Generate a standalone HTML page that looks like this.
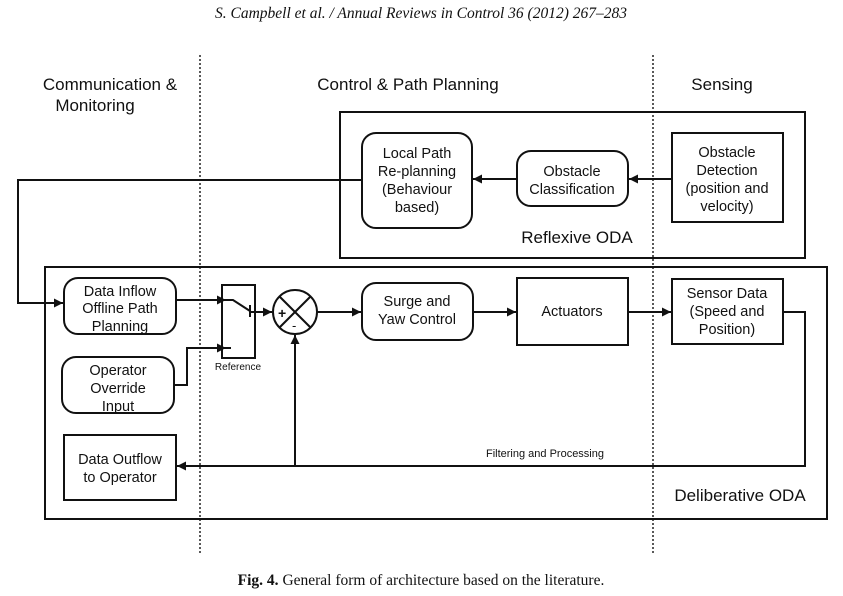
<!DOCTYPE html>
<html><head><meta charset="utf-8"><style>
html,body{margin:0;padding:0;background:#fff}
svg{display:block}
text{font-family:"Liberation Sans",sans-serif;fill:#111}
</style></head><body>
<svg width="843" height="596" viewBox="0 0 843 596" xmlns="http://www.w3.org/2000/svg">
<defs><marker id="a" viewBox="0 0 10 10" refX="10" refY="5" markerWidth="9" markerHeight="9" markerUnits="userSpaceOnUse" orient="auto"><path d="M0,0L10,5L0,10z" fill="#111"/></marker></defs>
<text x="421" y="18" text-anchor="middle" style="font-family:'Liberation Serif',serif;font-style:italic;font-size:15.5px">S. Campbell et al. / Annual Reviews in Control 36 (2012) 267–283</text>
<g stroke="#222" stroke-width="1.5" stroke-dasharray="2,2"><line x1="200" y1="55" x2="200" y2="553"/><line x1="653" y1="55" x2="653" y2="553"/></g>
<g font-size="17" text-anchor="middle"><text x="110" y="90">Communication &amp;</text><text x="95" y="111">Monitoring</text><text x="408" y="90">Control &amp; Path Planning</text><text x="722" y="90">Sensing</text></g>
<g fill="none" stroke="#111" stroke-width="2">
<rect x="340" y="112" width="465" height="146"/>
<rect x="362" y="133" width="110" height="95" rx="14"/>
<rect x="517" y="151" width="111" height="55" rx="14"/>
<rect x="672" y="133" width="111" height="89"/>
<rect x="45" y="267" width="782" height="252"/>
<rect x="64" y="278" width="112" height="56" rx="14"/>
<rect x="62" y="357" width="112" height="56" rx="14"/>
<rect x="64" y="435" width="112" height="65"/>
<rect x="222" y="285" width="33" height="73"/>
<circle cx="295" cy="312" r="22"/>
<line x1="279.5" y1="296.5" x2="310.5" y2="327.5"/><line x1="310.5" y1="296.5" x2="279.5" y2="327.5"/>
<rect x="362" y="283" width="111" height="57" rx="14"/>
<rect x="517" y="278" width="111" height="67"/>
<rect x="672" y="279" width="111" height="65"/>
<line x1="672" y1="179" x2="629" y2="179" marker-end="url(#a)"/>
<line x1="517" y1="179" x2="473" y2="179" marker-end="url(#a)"/>
<polyline points="362,180 18,180 18,303 63,303" marker-end="url(#a)"/>
<polyline points="176,300 226,300" marker-end="url(#a)"/>
<polyline points="226,300 233,300 250,311"/>
<line x1="250" y1="305" x2="250" y2="317"/>
<line x1="250" y1="312" x2="272" y2="312" marker-end="url(#a)"/>
<polyline points="174,385 187,385 187,348 226,348" marker-end="url(#a)"/>
<line x1="226" y1="348" x2="231" y2="348"/>
<line x1="317" y1="312" x2="361" y2="312" marker-end="url(#a)"/>
<line x1="473" y1="312" x2="516" y2="312" marker-end="url(#a)"/>
<line x1="628" y1="312" x2="671" y2="312" marker-end="url(#a)"/>
<polyline points="783,312 805,312 805,466 177,466" marker-end="url(#a)"/>
<line x1="295" y1="466" x2="295" y2="335" marker-end="url(#a)"/>
</g>
<g font-size="14.5" text-anchor="middle">
<text x="417" y="158">Local Path</text><text x="417" y="176">Re-planning</text><text x="417" y="194">(Behaviour</text><text x="417" y="212">based)</text>
<text x="572" y="176">Obstacle</text><text x="572" y="194">Classification</text>
<text x="727" y="157">Obstacle</text><text x="727" y="175">Detection</text><text x="727" y="193">(position and</text><text x="727" y="211">velocity)</text>
<text x="120" y="296">Data Inflow</text><text x="120" y="313">Offline Path</text><text x="120" y="331">Planning</text>
<text x="118" y="375">Operator</text><text x="118" y="393">Override</text><text x="118" y="411">Input</text>
<text x="120" y="464">Data Outflow</text><text x="120" y="482">to Operator</text>
<text x="417" y="306">Surge and</text><text x="417" y="324">Yaw Control</text>
<text x="572" y="316">Actuators</text>
<text x="727" y="298">Sensor Data</text><text x="727" y="316">(Speed and</text><text x="727" y="334">Position)</text>
</g>
<text x="238" y="370" font-size="10" text-anchor="middle">Reference</text>
<text x="278" y="318" font-size="14" font-weight="bold">+</text>
<text x="292" y="330" font-size="13">-</text>
<text x="545" y="457" font-size="11" text-anchor="middle">Filtering and Processing</text>
<text x="577" y="243" font-size="17" text-anchor="middle">Reflexive ODA</text>
<text x="740" y="501" font-size="17" text-anchor="middle">Deliberative ODA</text>
<text x="421" y="585" text-anchor="middle" style="font-family:'Liberation Serif',serif;font-size:15.5px"><tspan font-weight="bold">Fig. 4.</tspan> General form of architecture based on the literature.</text>
</svg>
</body></html>
